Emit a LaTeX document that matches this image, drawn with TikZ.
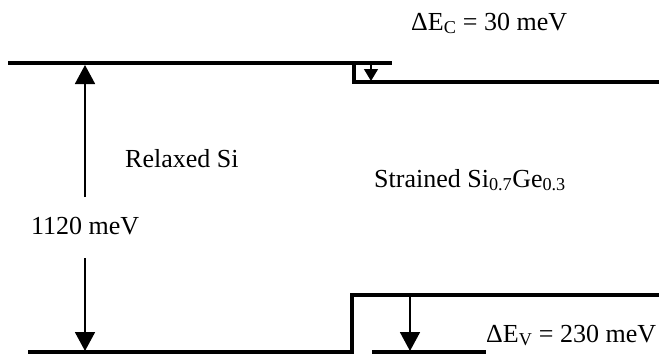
\documentclass[tikz,border=0pt]{standalone}
\usepackage{fontspec}
\setmainfont{Liberation Serif}
\usetikzlibrary{arrows.meta}
\begin{document}
\begin{tikzpicture}[x=1pt, y=-1pt, >={Triangle[width=20pt,length=19pt]},
	level/.style={line width=3.2pt, line join=miter},
	gap/.style={line width=1.8pt, ->},
	lbl/.style={font=\fontsize{26}{29}\selectfont, inner sep=0pt, anchor=base west}]
	
	\useasboundingbox (0,0) rectangle (659,354);
	
	% Cac muc nang luong (vung dan / vung hoa tri)
	\draw[level] (8,63) -- (392,63);
	\draw[level] (354,64) -- (354,82) -- (659,82);
	\draw[level] (28,352) -- (352,352) -- (352,295) -- (659,295);
	\draw[level] (372,352) -- (486,352);
	
	% Diem dau / cuoi cua cac mui ten
	\coordinate (gapUp0) at (85,197);
	\coordinate (gapUp1) at (85,65);
	\coordinate (gapDn0) at (85,258);
	\coordinate (gapDn1) at (85,351);
	\coordinate (dEc0) at (371,64);
	\coordinate (dEc1) at (371,81);
	\coordinate (dEv0) at (410,296);
	\coordinate (dEv1) at (410,351);
	
	% Mui ten
	\draw[gap] (gapUp0) -- (gapUp1);
	\draw[gap] (gapDn0) -- (gapDn1);
	\draw[gap, line width=1.4pt, -{Triangle[width=14pt,length=12pt]}] (dEc0) -- (dEc1);
	\draw[gap] (dEv0) -- (dEv1);
	
	% Nhan
	\node[lbl] (dEc) at (411,30) {ΔE\textsubscript{C} = 30 meV};
	\node[lbl] (relSi) at (125,167) {Relaxed Si};
	\node[lbl] (strSiGe) at (374,187) {Strained Si\textsubscript{0.7}Ge\textsubscript{0.3}};
	\node[lbl] (Eg) at (31,234) {1120 meV};
	\node[lbl] (dEv) at (486,342) {ΔE\textsubscript{V} = 230 meV};
	
\end{tikzpicture}
\end{document}
